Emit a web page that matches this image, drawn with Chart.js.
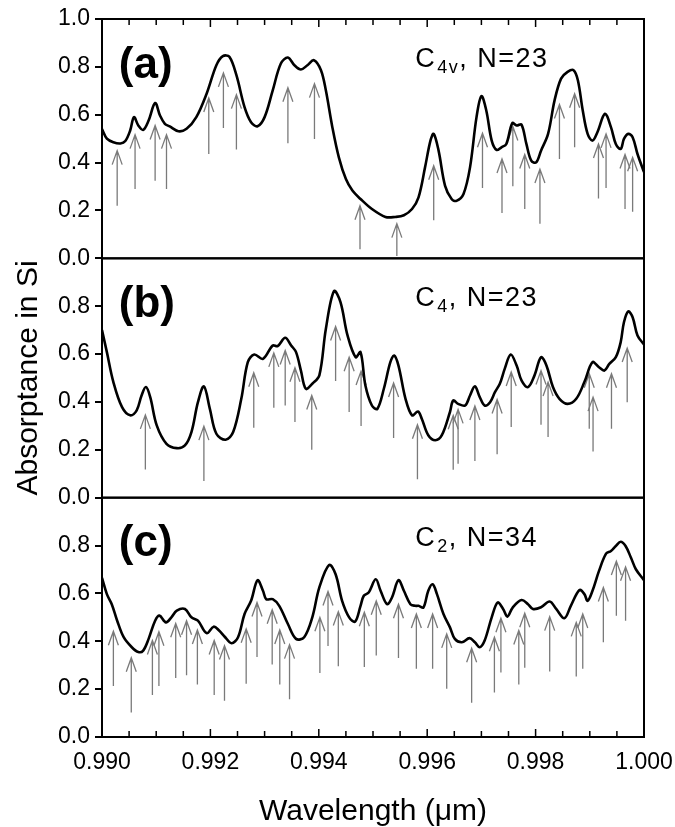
<!DOCTYPE html>
<html>
<head>
<meta charset="utf-8">
<script src="https://cdn.jsdelivr.net/npm/chart.js@4/dist/chart.umd.min.js"></script>
<style>
  html, body { margin: 0; padding: 0; background: #fff; }
  #wrap { position: relative; width: 675px; height: 827px; }
</style>
</head>
<body>
<div id="wrap"><canvas id="c" width="675" height="827"></canvas></div>
<script>
// ---------- data ----------
const xTickValues = [0.990, 0.992, 0.994, 0.996, 0.998, 1.000];
const xMinorStep = 0.0005;
const yTickValues = [0, 0.2, 0.4, 0.6, 0.8, 1.0];

const xTitle = 'Wavelength (\u03bcm)';
const yTitle = 'Absorptance in Si';
const panelLabels = ['(a)', '(b)', '(c)'];
const panelNotes = [['C', '4v', ', N=23'], ['C', '4', ', N=23'], ['C', '2', ', N=34']];

// curve of panel (a): [wavelength, absorptance]
const curveA = [[0.99000,0.54],[0.99009,0.50],[0.99021,0.485],[0.99034,0.48],[0.99043,0.49],[0.99052,0.534],[0.99059,0.59],[0.99067,0.555],[0.99076,0.537],[0.99086,0.576],[0.99098,0.649],[0.99107,0.597],[0.99116,0.562],[0.99125,0.551],[0.99141,0.531],[0.99156,0.541],[0.99174,0.59],[0.99193,0.688],[0.99211,0.807],[0.99223,0.845],[0.99235,0.842],[0.99248,0.765],[0.99263,0.632],[0.99275,0.569],[0.99287,0.552],[0.99300,0.59],[0.99315,0.702],[0.99330,0.814],[0.99343,0.839],[0.99355,0.807],[0.99367,0.789],[0.99379,0.807],[0.99391,0.828],[0.99404,0.786],[0.99413,0.702],[0.99425,0.548],[0.99437,0.422],[0.99450,0.331],[0.99462,0.283],[0.99477,0.248],[0.99498,0.206],[0.99523,0.173],[0.99541,0.173],[0.99557,0.180],[0.99572,0.206],[0.99584,0.255],[0.99596,0.380],[0.99606,0.492],[0.99612,0.52],[0.99621,0.45],[0.99633,0.303],[0.99645,0.248],[0.99654,0.24],[0.99667,0.269],[0.99679,0.38],[0.99691,0.59],[0.99700,0.678],[0.99709,0.618],[0.99719,0.492],[0.99728,0.453],[0.99737,0.464],[0.99746,0.478],[0.99757,0.565],[0.99765,0.555],[0.99774,0.559],[0.99783,0.478],[0.99792,0.408],[0.99801,0.401],[0.99810,0.45],[0.99823,0.52],[0.99835,0.66],[0.99847,0.751],[0.99859,0.779],[0.99870,0.786],[0.99878,0.744],[0.99887,0.618],[0.99896,0.52],[0.99905,0.492],[0.99914,0.527],[0.99928,0.604],[0.99939,0.548],[0.99948,0.478],[0.99957,0.457],[0.99963,0.499],[0.99971,0.52],[0.99979,0.506],[0.99988,0.436],[1.00000,0.36]];

// curve of panel (b)
const curveB = [[0.99000,0.70],[0.99009,0.608],[0.99021,0.483],[0.99037,0.378],[0.99052,0.344],[0.99064,0.365],[0.99073,0.427],[0.99081,0.462],[0.99089,0.42],[0.99101,0.302],[0.99119,0.225],[0.99138,0.207],[0.99153,0.218],[0.99165,0.274],[0.99177,0.399],[0.99188,0.465],[0.99199,0.371],[0.99211,0.267],[0.99228,0.242],[0.99242,0.274],[0.99257,0.413],[0.99269,0.566],[0.99281,0.598],[0.99297,0.58],[0.99315,0.636],[0.99324,0.633],[0.99338,0.668],[0.99349,0.636],[0.99358,0.608],[0.99367,0.531],[0.99376,0.455],[0.99388,0.476],[0.99401,0.511],[0.99413,0.705],[0.99428,0.863],[0.99440,0.817],[0.99453,0.678],[0.99468,0.587],[0.99477,0.608],[0.99486,0.469],[0.99498,0.385],[0.99508,0.371],[0.99520,0.455],[0.99532,0.566],[0.99539,0.594],[0.99547,0.552],[0.99560,0.413],[0.99572,0.344],[0.99583,0.360],[0.99590,0.330],[0.99602,0.261],[0.99615,0.240],[0.99627,0.261],[0.99642,0.358],[0.99648,0.406],[0.99657,0.392],[0.99670,0.385],[0.99679,0.427],[0.99688,0.465],[0.99697,0.420],[0.99706,0.385],[0.99716,0.399],[0.99725,0.441],[0.99734,0.476],[0.99743,0.538],[0.99754,0.598],[0.99765,0.552],[0.99774,0.490],[0.99786,0.462],[0.99798,0.511],[0.99810,0.587],[0.99820,0.552],[0.99832,0.462],[0.99844,0.413],[0.99859,0.392],[0.99875,0.413],[0.99890,0.483],[0.99905,0.566],[0.99917,0.545],[0.99927,0.531],[0.99936,0.559],[0.99948,0.587],[0.99957,0.650],[0.99963,0.733],[0.99971,0.778],[0.99979,0.754],[0.99988,0.678],[1.00000,0.64]];

// curve of panel (c)
const curveC = [[0.99000,0.665],[0.99009,0.597],[0.99018,0.555],[0.99028,0.486],[0.99040,0.417],[0.99055,0.375],[0.99067,0.355],[0.99076,0.361],[0.99086,0.41],[0.99098,0.486],[0.99106,0.507],[0.99118,0.479],[0.99128,0.50],[0.99138,0.528],[0.99153,0.535],[0.99165,0.50],[0.99177,0.486],[0.99193,0.434],[0.99206,0.461],[0.99216,0.445],[0.99226,0.42],[0.99239,0.392],[0.99251,0.417],[0.99263,0.514],[0.99275,0.569],[0.99287,0.655],[0.99297,0.611],[0.99303,0.576],[0.99315,0.576],[0.99327,0.548],[0.99343,0.472],[0.99358,0.41],[0.99373,0.417],[0.99388,0.50],[0.99401,0.625],[0.99419,0.719],[0.99431,0.68],[0.99443,0.569],[0.99456,0.50],[0.99467,0.482],[0.99477,0.548],[0.99483,0.59],[0.99492,0.604],[0.99505,0.659],[0.99514,0.611],[0.99526,0.555],[0.99535,0.583],[0.99547,0.655],[0.99557,0.611],[0.99569,0.555],[0.99578,0.548],[0.99584,0.548],[0.99593,0.541],[0.99602,0.611],[0.99610,0.638],[0.99618,0.597],[0.99630,0.514],[0.99642,0.458],[0.99651,0.41],[0.99664,0.396],[0.99678,0.413],[0.99688,0.396],[0.99697,0.375],[0.99706,0.403],[0.99719,0.50],[0.99730,0.562],[0.99740,0.535],[0.99748,0.503],[0.99758,0.542],[0.99774,0.572],[0.99786,0.555],[0.99795,0.535],[0.99810,0.542],[0.99826,0.566],[0.99838,0.535],[0.99853,0.496],[0.99865,0.548],[0.99881,0.614],[0.99890,0.597],[0.99896,0.569],[0.99905,0.611],[0.99917,0.694],[0.99930,0.766],[0.99939,0.777],[0.99948,0.798],[0.99957,0.816],[0.99966,0.798],[0.99976,0.749],[0.99985,0.701],[1.00000,0.655]];

// arrows: [wavelength, tip value, tail value]
const arrowsA = [[0.99028,0.450,0.220],[0.99061,0.517,0.290],[0.99098,0.555,0.324],[0.99119,0.517,0.290],[0.99197,0.670,0.436],[0.99224,0.775,0.545],[0.99248,0.684,0.455],[0.99343,0.713,0.481],[0.99392,0.730,0.499],[0.99476,0.220,0.038],[0.99544,0.145,0.010],[0.99612,0.387,0.159],[0.99702,0.523,0.294],[0.99738,0.415,0.189],[0.99758,0.551,0.301],[0.99780,0.434,0.206],[0.99808,0.373,0.145],[0.99844,0.643,0.415],[0.99872,0.688,0.464],[0.99916,0.478,0.250],[0.99930,0.520,0.294],[0.99965,0.434,0.206],[0.99979,0.422,0.195]];
const arrowsB = [[0.99080,0.346,0.118],[0.99188,0.299,0.070],[0.99280,0.522,0.292],[0.99317,0.605,0.376],[0.99338,0.615,0.385],[0.99356,0.543,0.316],[0.99387,0.427,0.200],[0.99431,0.715,0.487],[0.99456,0.587,0.358],[0.99478,0.529,0.299],[0.99538,0.479,0.249],[0.99582,0.305,0.077],[0.99648,0.344,0.117],[0.99657,0.369,0.142],[0.99688,0.383,0.153],[0.99729,0.410,0.181],[0.99755,0.525,0.295],[0.99810,0.531,0.305],[0.99823,0.483,0.253],[0.99899,0.518,0.288],[0.99906,0.420,0.193],[0.99940,0.518,0.288],[0.99969,0.625,0.399]];
const arrowsC = [[0.99021,0.442,0.213],[0.99054,0.331,0.102],[0.99093,0.403,0.175],[0.99105,0.440,0.213],[0.99136,0.475,0.247],[0.99156,0.486,0.258],[0.99176,0.447,0.219],[0.99207,0.403,0.175],[0.99226,0.382,0.151],[0.99266,0.452,0.223],[0.99286,0.562,0.334],[0.99314,0.532,0.303],[0.99328,0.447,0.219],[0.99346,0.386,0.158],[0.99402,0.500,0.267],[0.99417,0.608,0.380],[0.99436,0.524,0.296],[0.99484,0.521,0.292],[0.99506,0.569,0.341],[0.99547,0.555,0.330],[0.99580,0.514,0.285],[0.99610,0.514,0.285],[0.99636,0.431,0.202],[0.99682,0.371,0.143],[0.99724,0.417,0.186],[0.99736,0.496,0.269],[0.99769,0.445,0.219],[0.99780,0.517,0.289],[0.99826,0.503,0.274],[0.99875,0.479,0.253],[0.99887,0.514,0.285],[0.99925,0.625,0.396],[0.99949,0.735,0.507],[0.99966,0.711,0.486]];

// annotation anchors (data units)
const labelPos = [0.99031, 0.755];
const notePos = [0.99578, 0.80];

// ---------- chart ----------
const FONT = "'Liberation Sans', Arial, sans-serif";
const panelAxes = ['yA', 'yB', 'yC'];
const arrowSets = [arrowsA, arrowsB, arrowsC];
const toXY = arr => arr.map(p => ({x: p[0], y: p[1]}));

function yAxis(hideTop) {
  return {
    type: 'linear', position: 'left', stack: 'panels', stackWeight: 1,
    min: 0, max: 1,
    afterBuildTicks: s => { s.ticks = yTickValues.map(v => ({value: v})); },
    afterFit: s => { s.width = 102; s.paddingTop = 0; s.paddingBottom = 0; },
    ticks: {
      color: '#000', font: {family: FONT, size: 23}, padding: 5, autoSkip: false,
      callback: v => (hideTop && v > 0.99) ? '' : v.toFixed(1)
    },
    grid: {display: true, drawOnChartArea: false, drawTicks: true, tickLength: 7, color: '#000', lineWidth: 2},
    border: {display: true, color: '#000', width: 2}
  };
}

const decor = {
  id: 'decor',
  beforeDatasetsDraw(chart) {
    const ctx = chart.ctx, x = chart.scales.x;
    ctx.save();
    ctx.strokeStyle = '#7a7a7a';
    ctx.lineWidth = 1.3;
    panelAxes.forEach((id, i) => {
      const y = chart.scales[id];
      arrowSets[i].forEach(a => {
        const px = x.getPixelForValue(a[0]);
        const pt = y.getPixelForValue(a[1]);
        const pb = y.getPixelForValue(a[2]);
        ctx.beginPath();
        ctx.moveTo(px, pb); ctx.lineTo(px, pt);
        ctx.moveTo(px - 5, pt + 14); ctx.lineTo(px, pt); ctx.lineTo(px + 5, pt + 14);
        ctx.stroke();
      });
    });
    ctx.restore();
  },
  afterDraw(chart) {
    const ctx = chart.ctx, x = chart.scales.x, area = chart.chartArea;
    ctx.save();
    // panel frames
    ctx.strokeStyle = '#000';
    ctx.lineWidth = 2;
    panelAxes.forEach(id => {
      const y = chart.scales[id];
      ctx.strokeRect(area.left, y.top, area.right - area.left, y.bottom - y.top);
    });
    // inward x ticks at top of (a) and bottom of (c)
    const yTop = chart.scales.yA.top, yBot = chart.scales.yC.bottom;
    ctx.lineWidth = 1.5;
    const n = Math.round((x.max - x.min) / xMinorStep);
    for (let k = 1; k < n; k++) {
      const v = x.min + k * xMinorStep;
      const px = x.getPixelForValue(v);
      const major = xTickValues.some(t => Math.abs(t - v) < 1e-9);
      const len = major ? 8 : 6;
      ctx.beginPath();
      ctx.moveTo(px, yTop); ctx.lineTo(px, yTop + len);
      ctx.moveTo(px, yBot); ctx.lineTo(px, yBot - len);
      ctx.stroke();
    }
    // panel letters and notes
    ctx.fillStyle = '#000';
    ctx.textBaseline = 'alphabetic';
    ctx.textAlign = 'left';
    panelAxes.forEach((id, i) => {
      const y = chart.scales[id];
      ctx.letterSpacing = '0px';
      ctx.font = 'bold 44px ' + FONT;
      ctx.fillText(panelLabels[i], x.getPixelForValue(labelPos[0]), y.getPixelForValue(labelPos[1]));
      let px = x.getPixelForValue(notePos[0]);
      const py = y.getPixelForValue(notePos[1]);
      const [base, sub, rest] = panelNotes[i];
      ctx.letterSpacing = '1.5px';
      ctx.font = '27px ' + FONT;
      ctx.fillText(base, px, py); px += ctx.measureText(base).width + 1;
      ctx.font = '18px ' + FONT;
      ctx.fillText(sub, px, py + 6); px += ctx.measureText(sub).width;
      ctx.font = '27px ' + FONT;
      ctx.fillText(rest, px, py);
    });
    ctx.letterSpacing = '0px';
    // axis titles
    ctx.font = '30px ' + FONT;
    ctx.textAlign = 'center';
    ctx.fillText(xTitle, (area.left + area.right) / 2, 820);
    ctx.translate(37, (area.top + area.bottom) / 2);
    ctx.rotate(-Math.PI / 2);
    ctx.fillText(yTitle, 0, 0);
    ctx.restore();
  }
};

new Chart(document.getElementById('c'), {
  type: 'line',
  data: {
    datasets: [
      {data: toXY(curveA), yAxisID: 'yA'},
      {data: toXY(curveB), yAxisID: 'yB'},
      {data: toXY(curveC), yAxisID: 'yC'}
    ].map(d => Object.assign(d, {xAxisID: 'x', borderColor: '#000', borderWidth: 2.6, pointRadius: 0, tension: 0.35, fill: false}))
  },
  options: {
    responsive: false, animation: false, events: [],
    layout: {padding: {top: 19, right: 31, left: 0, bottom: 0}},
    plugins: {legend: {display: false}, tooltip: {enabled: false}},
    scales: {
      x: {
        type: 'linear', position: 'bottom', min: 0.99, max: 1.0,
        afterBuildTicks: s => { s.ticks = xTickValues.map(v => ({value: v})); },
        afterFit: s => { s.height = 90; s.paddingLeft = 0; s.paddingRight = 0; },
        ticks: {color: '#000', font: {family: FONT, size: 23}, padding: 12, maxRotation: 0, autoSkip: false,
                callback: v => Number(v).toFixed(3)},
        grid: {display: false, drawTicks: false},
        border: {display: true, color: '#000', width: 2}
      },
      yC: yAxis(true),
      yB: yAxis(true),
      yA: yAxis(false)
    }
  },
  plugins: [decor]
});
</script>
</body>
</html>
